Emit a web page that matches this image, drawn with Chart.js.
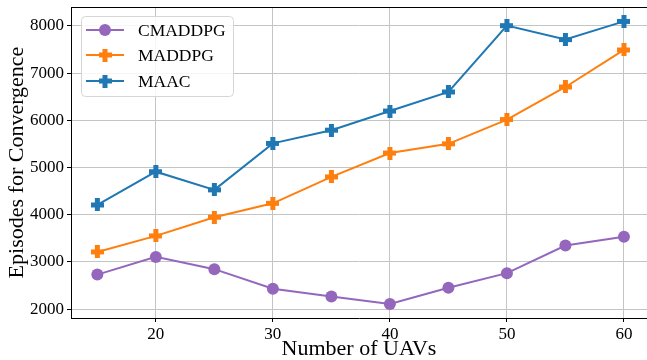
<!DOCTYPE html>
<html>
<head>
<meta charset="utf-8">
<script src="https://cdn.jsdelivr.net/npm/chart.js@4.4.0/dist/chart.umd.min.js"></script>
<style>
  html, body { margin: 0; padding: 0; background: #fff; overflow: hidden; }
  #wrap { position: relative; width: 647px; height: 360px; }
</style>
</head>
<body>
<div id="wrap"><canvas id="c" width="647" height="360"></canvas></div>
<script>
// Number of UAVs
const uavCounts = [15, 20, 25, 30, 35, 40, 45, 50, 55, 60];
// Episodes needed for convergence per algorithm
const cmaddpg = [2730, 3105, 2845, 2430, 2265, 2105, 2450, 2760, 3345, 3530];
const maddpg  = [3210, 3550, 3945, 4240, 4800, 5305, 5500, 6015, 6705, 7490];
const maac    = [4205, 4910, 4525, 5510, 5790, 6195, 6600, 8005, 7710, 8095];

const xTicks = [20, 30, 40, 50, 60];
const yTicks = [2000, 3000, 4000, 5000, 6000, 7000, 8000];

const seriesNames = ['CMADDPG', 'MADDPG', 'MAAC'];
const seriesColors = ['#9467bd', '#ff7f0e', '#1f77b4'];

const FONT = '"Liberation Serif", "Times New Roman", serif';

// Filled "plus" marker
function makePlus(color, size, arm) {
  const c = document.createElement('canvas');
  c.width = size; c.height = size;
  const g = c.getContext('2d');
  g.fillStyle = color;
  const o = (size - arm) / 2;
  g.fillRect(o, 0, arm, size);
  g.fillRect(0, o, size, arm);
  return c;
}

const plusOrange = makePlus('#ff7f0e', 13, 5);
const plusBlue = makePlus('#1f77b4', 13, 5);

function toPoints(arr) {
  return arr.map((v, i) => ({ x: uavCounts[i], y: v }));
}

// Boxed legend inside the plot, plus the top frame line
const framePlugin = {
  id: 'frame',
  afterDatasetsDraw(chart) {
    const ctx = chart.ctx;
    const a = chart.chartArea;
    ctx.save();
    ctx.strokeStyle = '#000';
    ctx.lineWidth = 1;
    ctx.beginPath();
    ctx.moveTo(a.left, a.top + 0.5);
    ctx.lineTo(a.right, a.top + 0.5);
    ctx.stroke();
    ctx.restore();
  },
  afterDraw(chart) {
    const ctx = chart.ctx;
    const bx = 81, by = 16, bw = 152, bh = 80, r = 4;
    ctx.save();
    ctx.beginPath();
    ctx.roundRect(bx + 0.5, by + 0.5, bw, bh, r);
    ctx.fillStyle = 'rgba(255,255,255,0.85)';
    ctx.fill();
    ctx.strokeStyle = '#d6d6d6';
    ctx.lineWidth = 1;
    ctx.stroke();

    const rows = [30, 55, 81];
    chart.data.datasets.forEach((ds, i) => {
      const y = rows[i];
      ctx.strokeStyle = ds.borderColor;
      ctx.lineWidth = 2;
      ctx.beginPath();
      ctx.moveTo(86, y);
      ctx.lineTo(124, y);
      ctx.stroke();
      if (ds.pointStyle === 'circle') {
        ctx.fillStyle = ds.borderColor;
        ctx.beginPath();
        ctx.arc(105, y, 6, 0, Math.PI * 2);
        ctx.fill();
      } else {
        const img = ds.pointStyle;
        ctx.drawImage(img, 105 - img.width / 2, y - img.height / 2);
      }
      ctx.fillStyle = '#000';
      ctx.font = '17.5px ' + FONT;
      ctx.textBaseline = 'middle';
      ctx.textAlign = 'left';
      ctx.fillText(ds.label, 138, y + 1);
    });
    ctx.restore();
  }
};

new Chart(document.getElementById('c'), {
  type: 'line',
  data: {
    datasets: [
      {
        label: seriesNames[0], data: toPoints(cmaddpg),
        borderColor: seriesColors[0], backgroundColor: seriesColors[0],
        borderWidth: 2, pointStyle: 'circle', pointRadius: 6, pointHoverRadius: 6,
        pointBorderWidth: 0, pointBackgroundColor: seriesColors[0], tension: 0
      },
      {
        label: seriesNames[1], data: toPoints(maddpg),
        borderColor: seriesColors[1], backgroundColor: seriesColors[1],
        borderWidth: 2, pointStyle: plusOrange, pointRadius: 6, pointHoverRadius: 6, tension: 0
      },
      {
        label: seriesNames[2], data: toPoints(maac),
        borderColor: seriesColors[2], backgroundColor: seriesColors[2],
        borderWidth: 2, pointStyle: plusBlue, pointRadius: 6, pointHoverRadius: 6, tension: 0
      }
    ]
  },
  options: {
    responsive: false,
    animation: false,
    devicePixelRatio: 1,
    events: [],
    layout: { autoPadding: false, padding: { top: 7, right: 0, left: 0, bottom: 0 } },
    plugins: {
      legend: { display: false },
      tooltip: { enabled: false }
    },
    scales: {
      x: {
        type: 'linear',
        min: 12.75, max: 61.97,
        afterBuildTicks(scale) { scale.ticks = xTicks.map(v => ({ value: v })); },
        afterFit(scale) {
          scale.height = 42;
          scale.paddingLeft = 0;
          scale.paddingRight = 0;
        },
        grid: { color: '#c4c4c4', lineWidth: 1, tickLength: 4, tickColor: '#000', drawTicks: true },
        border: { display: true, color: '#000', width: 1 },
        ticks: {
          color: '#000', font: { family: FONT, size: 17 }, padding: 2, maxRotation: 0,
          callback: v => String(v)
        },
        title: {
          display: true, text: 'Number of UAVs', color: '#000',
          font: { family: FONT, size: 22, lineHeight: 1 },
          padding: { top: 0, bottom: 0 }
        }
      },
      y: {
        min: 1810, max: 8400,
        afterBuildTicks(scale) { scale.ticks = yTicks.map(v => ({ value: v })); },
        afterFit(scale) {
          scale.width = 71;
          scale.paddingTop = 0;
          scale.paddingBottom = 0;
        },
        grid: { color: '#c4c4c4', lineWidth: 1, tickLength: 4, tickColor: '#000', drawTicks: true },
        border: { display: true, color: '#000', width: 1 },
        ticks: {
          color: '#000', font: { family: FONT, size: 17 }, padding: 3,
          callback: v => String(v)
        },
        title: {
          display: true, text: 'Episodes for Convergence', color: '#000',
          font: { family: FONT, size: 22, lineHeight: 1 },
          padding: { top: 6, bottom: 0 }
        }
      }
    }
  },
  plugins: [framePlugin]
});
</script>
</body>
</html>
